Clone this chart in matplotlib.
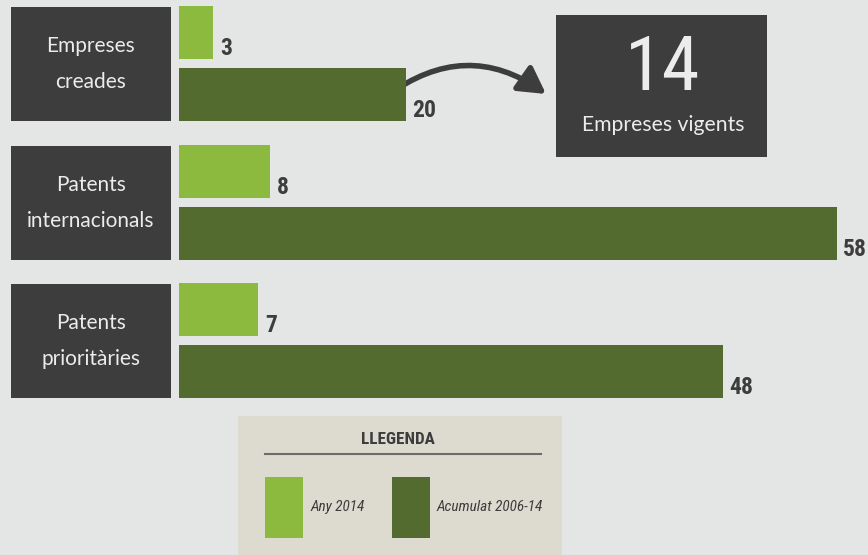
import matplotlib
matplotlib.use("Agg")
import matplotlib.pyplot as plt
from matplotlib.patches import Rectangle, FancyArrowPatch, Circle

# data
categories = ["Empreses\ncreades", "Patents\ninternacionals", "Patents\nprioritàries"]
any_2014 = [3, 8, 7]
acumulat = [20, 58, 48]
series_names = ["Any 2014", "Acumulat 2006-14"]
vigents = 14
vigents_label = "Empreses vigents"

BG = "#e4e6e5"
DARK = "#3d3d3d"
LIGHT_G = "#8cba3f"
DARK_G = "#546b30"
LEG_BG = "#dddbd0"
WHITE = "#ececec"

cond = ["Roboto Condensed", "DejaVu Sans"]
light = ["Lato", "DejaVu Sans"]

W, H = 868, 555
fig = plt.figure(figsize=(W / 100, H / 100), dpi=100, facecolor=BG)

# background axes in pixel coords (boxes, legend, arrow)
bg = fig.add_axes([0, 0, 1, 1])
bg.set_xlim(0, W)
bg.set_ylim(H, 0)
bg.axis("off")

# bar axes: x in data units, y in pixels
px_per_unit = 11.34
x0 = 179
ax = fig.add_axes([0, 0, 1, 1])
ax.set_xlim(-x0 / px_per_unit, (W - x0) / px_per_unit)
ax.set_ylim(H, 0)
ax.axis("off")
ax.patch.set_alpha(0)

group_tops = [6, 145, 283]
bar_h = 53
gap = 9
box_h = 114
pad = 7 / px_per_unit

for i, cat in enumerate(categories):
    top = group_tops[i]
    # category box
    bg.add_patch(Rectangle((11, top + 1), 160, box_h, color=DARK, lw=0))
    bg.text(91, top + 1 + box_h / 2, cat, ha="center", va="center",
            color=WHITE, fontsize=15, family=light, linespacing=2.0)
    y1 = top + bar_h / 2
    y2 = top + bar_h + gap + bar_h / 2
    ax.barh(y1, any_2014[i], height=bar_h, color=LIGHT_G)
    ax.barh(y2, acumulat[i], height=bar_h, color=DARK_G)
    ax.text(any_2014[i] + pad, top + bar_h + 1, str(any_2014[i]),
            ha="left", va="bottom", color=DARK, fontsize=17,
            fontweight="bold", family=cond)
    ax.text(acumulat[i] + pad * 0.85, top + 2 * bar_h + gap + 1, str(acumulat[i]),
            ha="left", va="bottom", color=DARK, fontsize=17,
            fontweight="bold", family=cond)

# arrow from the accumulated companies bar to the "vigents" box
top = group_tops[0]
dot_px = x0 + acumulat[0] * px_per_unit - 19
dot_y = top + 2 * bar_h + gap - 25
bg.add_patch(FancyArrowPatch((dot_px, dot_y), (546, 94),
                             connectionstyle="arc3,rad=-0.36",
                             arrowstyle="-|>,head_length=16,head_width=9",
                             color=DARK, lw=4, shrinkA=0, shrinkB=0))
bg.add_patch(Circle((dot_px, dot_y), 10.5, color=DARK, zorder=5))

# vigents box
bg.add_patch(Rectangle((556, 15), 211, 142, color=DARK, lw=0))
bg.text(663, 70, str(vigents), ha="center", va="center", color=WHITE,
        fontsize=55, fontweight="normal", family=cond)
bg.text(663, 125, vigents_label, ha="center", va="center", color=WHITE,
        fontsize=15.2, family=light)

# legend
bg.add_patch(Rectangle((238, 416), 324, 140, color=LEG_BG, lw=0))
bg.text(398, 440, "LLEGENDA", ha="center", va="center", color=DARK,
        fontsize=12.3, fontweight="bold", family=cond)
bg.plot([265, 541], [454, 454], color="#6b6b6b", lw=1.5)
bg.add_patch(Rectangle((265, 477), 38, 61, color=LIGHT_G, lw=0))
bg.add_patch(Rectangle((392, 477), 38, 61, color=DARK_G, lw=0))
bg.text(310, 507, series_names[0], ha="left", va="center", color=DARK,
        fontsize=11, style="italic", family=cond)
bg.text(437, 507, series_names[1], ha="left", va="center", color=DARK,
        fontsize=11, style="italic", family=cond)

fig.savefig("out.png", dpi=100, facecolor=BG)
